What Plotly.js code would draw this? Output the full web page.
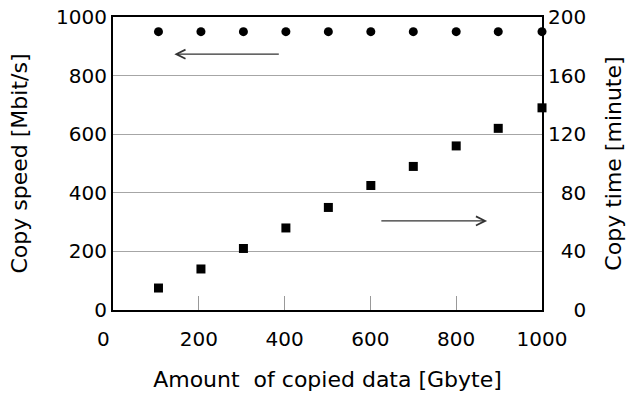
<!DOCTYPE html>
<html>
<head>
<meta charset="utf-8">
<script src="https://cdn.plot.ly/plotly-3.0.1.min.js"></script>
<style>html,body{margin:0;padding:0;background:#fff;}#chart{width:630px;height:397px;}</style>
</head>
<body>
<div id="chart"></div>
<script>
// Data
const copiedData = [106, 205, 304, 403, 502, 601, 700, 800, 898, 1000];   // Gbyte
const copySpeed  = [950, 950, 950, 950, 950, 950, 950, 950, 950, 950];    // Mbit/s (left axis)
const copyTime   = [15, 28, 42, 56, 70, 85, 98, 112, 124, 138];           // minute (right axis)

const xTickVals  = [0, 200, 400, 600, 800, 1000];
const xTickText  = ['0\u00a0\u00a0\u00a0', '200', '400', '600', '800', '1000'];
const y1TickVals = [0, 200, 400, 600, 800, 1000];
const y1TickText = ['0', '200', '400', '600', '800', '1000'];
const y2TickVals = [0, 40, 80, 120, 160, 200];
const y2TickText = ['\u00a0\u00a0\u00a0\u00a00', '\u00a0\u00a040', '\u00a0\u00a080', '120', '160', '200'];

const FONT = 'DejaVu Sans, Verdana, sans-serif';
const TICK = 20;
const TITLE = 22;

const traces = [
  {
    x: copiedData, y: copySpeed, type: 'scatter', mode: 'markers',
    name: 'Copy speed', yaxis: 'y',
    marker: {symbol: 'circle', size: 9, color: '#000'},
    cliponaxis: false
  },
  {
    x: copiedData, y: copyTime, type: 'scatter', mode: 'markers',
    name: 'Copy time', yaxis: 'y2',
    marker: {symbol: 'square', size: 9, color: '#000'},
    cliponaxis: false
  }
];

const layout = {
  width: 630, height: 397,
  margin: {l: 113, r: 88, t: 17, b: 87},
  paper_bgcolor: '#fff', plot_bgcolor: '#fff',
  showlegend: false,
  font: {family: FONT, size: TICK, color: '#000'},
  xaxis: {
    range: [0, 1000], tickvals: xTickVals, ticktext: xTickText,
    ticks: 'inside', ticklen: 14, tickwidth: 1, tickcolor: '#999',
    showgrid: false, zeroline: false,
    showline: true, linecolor: '#000', linewidth: 2, mirror: true,
    tickfont: {family: FONT, size: TICK},
    ticklabelstandoff: 10,
    title: {text: 'Amount\u00a0 of copied data [Gbyte]', font: {family: FONT, size: TITLE}, standoff: 22}
  },
  yaxis: {
    range: [0, 1000], tickvals: y1TickVals, ticktext: y1TickText,
    ticks: '', showgrid: true, gridcolor: '#a6a6a6', gridwidth: 1,
    zeroline: false, showline: true, linecolor: '#000', linewidth: 2,
    tickfont: {family: FONT, size: TICK},
    title: {text: 'Copy speed [Mbit/s]', font: {family: FONT, size: TITLE}, standoff: 22}
  },
  yaxis2: {
    range: [0, 200], tickvals: y2TickVals, ticktext: y2TickText,
    overlaying: 'y', side: 'right', anchor: 'x',
    ticks: '', showgrid: false, zeroline: false,
    showline: true, linecolor: '#000', linewidth: 2,
    tickfont: {family: FONT, size: TICK},
    title: {text: 'Copy time [minute]', font: {family: FONT, size: TITLE}, standoff: 20}
  },
  annotations: [
    {x: 143, y: 873, ax: 390, ay: 873, xref: 'x', yref: 'y', axref: 'x', ayref: 'y',
     showarrow: true, arrowhead: 5, arrowsize: 1.5, arrowwidth: 1.2, arrowcolor: '#333', text: ''},
    {x: 872, y: 304, ax: 622, ay: 304, xref: 'x', yref: 'y', axref: 'x', ayref: 'y',
     showarrow: true, arrowhead: 5, arrowsize: 1.5, arrowwidth: 1.2, arrowcolor: '#333', text: ''}
  ]
};

Plotly.newPlot('chart', traces, layout, {displayModeBar: false, staticPlot: true});
</script>
</body>
</html>
